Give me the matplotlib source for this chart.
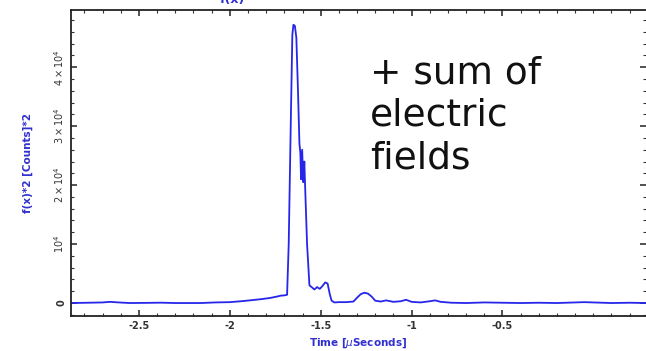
import matplotlib
matplotlib.use("Agg")
import matplotlib.pyplot as plt
from matplotlib.ticker import MultipleLocator, FixedLocator

# intensity trace, time in microseconds, |E|^2 in counts^2
time_us = [-2.874, -2.78, -2.70, -2.66, -2.60, -2.55, -2.45, -2.38, -2.30,
           -2.16, -2.08, -2.00, -1.94, -1.89, -1.83, -1.78, -1.74, -1.72,
           -1.70, -1.685, -1.676, -1.665, -1.656, -1.650, -1.642, -1.634,
           -1.625, -1.617, -1.612, -1.608, -1.602, -1.596, -1.590, -1.586,
           -1.575, -1.562, -1.550, -1.535, -1.520, -1.505, -1.490, -1.475,
           -1.462, -1.450, -1.440, -1.425, -1.40, -1.36, -1.32, -1.30, -1.28,
           -1.26, -1.24, -1.22, -1.20, -1.17, -1.14, -1.10, -1.06, -1.03,
           -1.00, -0.95, -0.90, -0.87, -0.84, -0.78, -0.70, -0.60, -0.50,
           -0.40, -0.30, -0.20, -0.10, -0.05, 0.00, 0.10, 0.20, 0.29]
intensity = [0, 50, 100, 200, 80, 0, 30, 60, 0,
             0, 100, 150, 300, 450, 650, 850, 1100, 1250,
             1300, 1400, 10000, 30000, 45500, 47200, 47000, 45000,
             36000, 27000, 25500, 21000, 26000, 20500, 24000, 20000,
             10000, 3000, 2700, 2300, 2700, 2400, 2900, 3500,
             3300, 1500, 400, 100, 150, 150, 250, 900, 1500,
             1750, 1600, 1100, 400, 250, 450, 200, 300, 550,
             200, 100, 300, 450, 200, 50, 0, 100, 50,
             0, 50, 0, 100, 150, 100, 0, 50, 0]

y_major = [0, 10000, 20000, 30000, 40000]
y_labels = ["0", "$10^4$", "$2\\times10^4$", "$3\\times10^4$", "$4\\times10^4$"]
x_major = [-2.5, -2.0, -1.5, -1.0, -0.5]
x_labels = ["-2.5", "-2", "-1.5", "-1", "-0.5"]

fig = plt.figure(figsize=(6.46, 3.51), dpi=100)
ax = fig.add_axes([71 / 646, 1 - 316 / 351, (646 - 71) / 646, (316 - 10) / 351])

ax.plot(time_us, intensity, color="#2626ea", lw=1.3)

ax.set_xlim(-2.874, 0.29)
ax.set_ylim(-2200, 49700)

ax.xaxis.set_major_locator(FixedLocator(x_major))
ax.xaxis.set_minor_locator(MultipleLocator(0.1))
ax.set_xticklabels(x_labels)
ax.yaxis.set_major_locator(FixedLocator(y_major))
ax.yaxis.set_minor_locator(MultipleLocator(2000))
ax.set_yticklabels(y_labels)

ax.tick_params(which="both", direction="in", top=True, right=True,
               colors="#333333", labelsize=7)
ax.tick_params(which="major", length=4, width=1.2)
ax.tick_params(which="minor", length=2, width=0.8)
for lab in ax.get_yticklabels():
    lab.set_rotation(90)
    lab.set_va("center")
for lab in ax.get_xticklabels() + ax.get_yticklabels():
    lab.set_fontweight("bold")

for side in ["left", "bottom", "top"]:
    ax.spines[side].set_linewidth(1.3)
    ax.spines[side].set_color("#222222")
ax.spines["right"].set_visible(False)

ax.set_xlabel("Time [$\\mu$Seconds]", color="#3030d0", fontsize=7.5,
              fontweight="bold", labelpad=4)
ax.set_ylabel("f(x)*2 [Counts]*2", color="#3030d0", fontsize=7.5,
              fontweight="bold", labelpad=14)

# plot label, mostly above the frame
fig.text(232 / 646, 1.0, "f(x)", color="#3030d0", fontsize=9,
         fontweight="bold", ha="center", va="center")

fig.text(370 / 646, 1 - 168 / 351, "+ sum of\nelectric\nfields",
         fontsize=27, color="#111111", ha="left", va="baseline",
         linespacing=1.22)

fig.savefig("out.png", dpi=100, facecolor="white")
